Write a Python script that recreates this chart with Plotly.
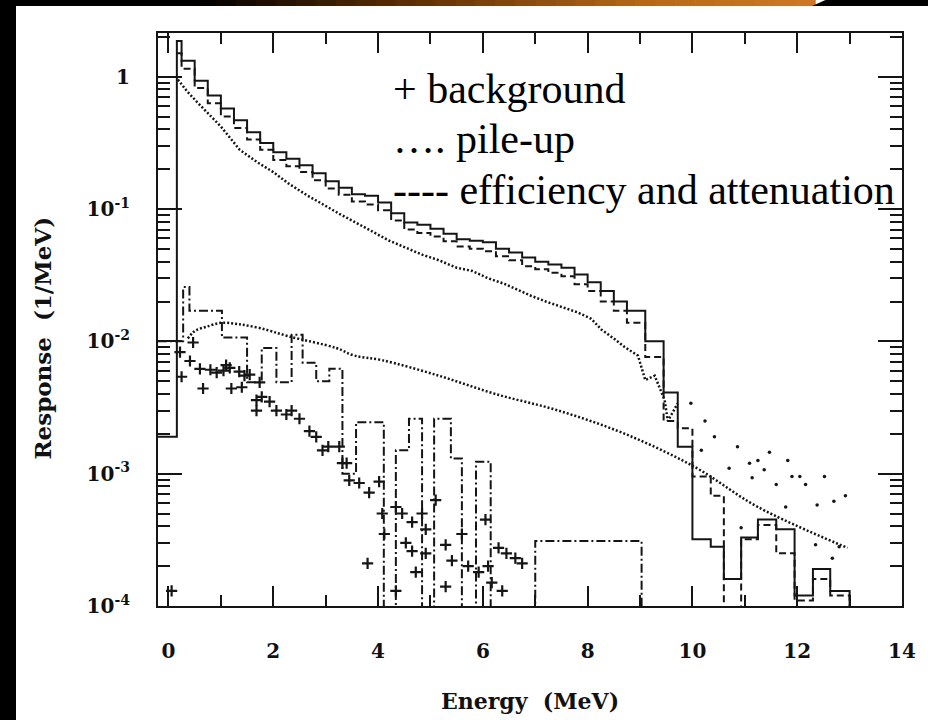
import plotly.graph_objects as go

# ---------------- data ----------------
# solid histogram (full response)
solid_edges = [-0.2, 0.16, 0.25, 0.5, 0.75, 1.0, 1.25, 1.5, 1.75, 2.0, 2.25, 2.5, 2.75, 3.0,
               3.25, 3.5, 3.75, 4.0, 4.25, 4.5, 4.75, 5.0, 5.25, 5.5, 5.75, 6.0, 6.25, 6.5,
               6.75, 7.0, 7.25, 7.5, 7.75, 8.0, 8.25, 8.5, 8.75, 9.1, 9.45, 9.72, 10.0,
               10.35, 10.6, 10.93, 11.25, 11.6, 11.95, 12.3, 12.63, 13.0]
solid_vals = [0.0019, 1.86, 1.32, 0.93, 0.72, 0.575, 0.468, 0.38, 0.316, 0.269, 0.24, 0.214,
              0.186, 0.162, 0.145, 0.129, 0.126, 0.112, 0.093, 0.079, 0.076, 0.071, 0.065,
              0.059, 0.0575, 0.056, 0.050, 0.047, 0.043, 0.040, 0.038, 0.036, 0.032, 0.028,
              0.024, 0.020, 0.017, 0.010, 0.0041, 0.0016, 3.2e-4, 2.8e-4, 1.6e-4, 3.3e-4,
              4.5e-4, 3.8e-4, 1.2e-4, 1.9e-4, 1.3e-4]

# dashed histogram (efficiency and attenuation)
dashed_edges = [0.16, 0.25, 0.5, 0.75, 1.0, 1.25, 1.5, 1.75, 2.0, 2.25, 2.5, 2.75, 3.0,
                3.25, 3.5, 3.75, 4.0, 4.25, 4.5, 4.75, 5.0, 5.25, 5.5, 5.75, 6.0, 6.25, 6.5,
                6.75, 7.0, 7.25, 7.5, 7.75, 8.0, 8.25, 8.5, 8.75, 9.1, 9.45, 9.72, 10.0,
                10.35, 10.6, 10.93, 11.25, 11.6, 11.95, 12.3, 12.63, 13.0]
dashed_vals = [1.5, 1.15, 0.82, 0.63, 0.50, 0.41, 0.335, 0.28, 0.235, 0.21, 0.19, 0.165,
               0.143, 0.128, 0.114, 0.108, 0.098, 0.082, 0.070, 0.066, 0.062, 0.057, 0.052,
               0.050, 0.048, 0.044, 0.041, 0.037, 0.035, 0.033, 0.031, 0.027, 0.024, 0.020,
               0.017, 0.0138, 0.0076, 0.0025, 0.0022, 9.5e-4, 6.8e-4, 1e-5, 3.2e-4, 4.1e-4,
               2.5e-4, 1.1e-4, 1.6e-4, 1.2e-4]

# dash-dot histogram (pile-up)
dashdot_edges = [-0.2, 0.28, 0.4, 1.02, 1.5, 1.78, 2.06, 2.35, 2.56, 2.82, 3.07, 3.32, 3.58,
                 4.11, 4.34, 4.59, 4.84, 5.07, 5.39, 5.6, 5.87, 6.15, 7.0, 9.03]
dashdot_vals = [0.010, 0.0257, 0.017, 0.0107, 0.0049, 0.0089, 0.0049, 0.0112, 0.0069, 0.0050,
                0.0062, 0.0010, 0.00245, 1e-5, 0.0015, 0.0026, 1e-5, 0.0026, 0.0013, 1e-5,
                0.00123, 1e-5, 3.1e-4]

# measured points (dotted)
meas_E = [0.18, 0.35, 0.55, 0.73, 1.0, 1.36, 1.7, 2.0, 2.3, 2.63, 3.0, 3.26, 3.6, 3.89, 4.2,
          4.53, 4.85, 5.16, 5.5, 5.8, 6.1, 6.43, 6.7, 6.93, 7.2, 7.44, 7.8, 8.07, 8.26, 8.5,
          8.7, 8.96, 9.1, 9.28, 9.47, 9.53, 9.72]
meas_R = [0.95, 0.78, 0.64, 0.54, 0.42, 0.28, 0.225, 0.19, 0.155, 0.128, 0.105, 0.092, 0.078,
          0.068, 0.058, 0.051, 0.045, 0.041, 0.036, 0.034, 0.030, 0.027, 0.024, 0.022, 0.020,
          0.0185, 0.0166, 0.0148, 0.0123, 0.0105, 0.0091, 0.0078, 0.0051, 0.0055, 0.0036,
          0.0025, 0.0034]
tail_E = [9.97, 10.17, 10.24, 10.42, 10.7, 10.86, 10.93, 11.09, 11.14, 11.25, 11.37, 11.47,
          11.6, 11.78, 11.82, 11.9, 12.05, 12.16, 12.35, 12.38, 12.52, 12.67, 12.7, 12.8, 12.92]
tail_R = [0.0034, 0.0015, 0.0025, 0.0019, 0.0011, 0.0016, 3.9e-4, 0.0012, 9.3e-4, 0.00126,
          0.00107, 0.00145, 8.3e-4, 5.6e-4, 0.00126, 9.5e-4, 9.5e-4, 8.3e-4, 2.9e-4, 5.8e-4,
          9.5e-4, 2.3e-4, 6.2e-4, 2.8e-4, 6.8e-4]

# smooth dotted curve
smooth_E = [0.37, 0.47, 0.56, 0.73, 1.0, 1.32, 1.74, 2.3, 3.2, 3.55, 4.08, 5.16, 6.24, 7.44,
            8.71, 10.05, 11.25, 12.96]
smooth_R = [0.0105, 0.0117, 0.0123, 0.0129, 0.0138, 0.0135, 0.0126, 0.0109, 0.0089, 0.0078,
            0.0072, 0.0055, 0.0040, 0.0030, 0.0020, 0.00112, 5.6e-4, 2.75e-4]

# background points (+)
bg_E = [0.06, 0.22, 0.25, 0.41, 0.47, 0.6, 0.66, 0.8, 0.92, 1.05, 1.1, 1.17, 1.2, 1.35, 1.4,
        1.45, 1.55, 1.68, 1.68, 1.74, 1.78, 1.93, 2.06, 2.25, 2.35, 2.5, 2.69, 2.82, 2.94,
        3.05, 3.26, 3.32, 3.4, 3.45, 3.64, 3.8, 3.83, 4.02, 4.08, 4.12, 4.34, 4.34, 4.46, 4.53,
        4.65, 4.65, 4.72, 4.84, 4.91, 4.91, 5.1, 5.29, 5.29, 5.41, 5.6, 5.72, 5.92, 6.05, 6.1,
        6.17, 6.3, 6.37, 6.45, 6.62, 6.75]
bg_R = [1.3e-4, 0.0083, 0.0054, 0.0071, 0.0098, 0.0062, 0.0044, 0.0061, 0.0058, 0.0060,
        0.0066, 0.0063, 0.0044, 0.0059, 0.0045, 0.0055, 0.0056, 0.0036, 0.0030, 0.0049,
        0.0038, 0.0035, 0.0030, 0.0028, 0.0030, 0.0026, 0.0021, 0.0019, 0.0015, 0.0016,
        0.0016, 0.0012, 0.0012, 8.9e-4, 8.5e-4, 2.1e-4, 7.2e-4, 8.7e-4, 5.0e-4, 3.5e-4,
        5.6e-4, 1.3e-4, 5.0e-4, 3.0e-4, 4.3e-4, 2.6e-4, 1.8e-4, 5.0e-4, 3.8e-4, 2.5e-4,
        6.3e-4, 2.9e-4, 1.4e-4, 2.2e-4, 3.5e-4, 2.0e-4, 1.8e-4, 4.5e-4, 2.0e-4, 1.5e-4,
        2.75e-4, 1.3e-4, 2.5e-4, 2.3e-4, 2.1e-4]

x_ticks = [0, 2, 4, 6, 8, 10, 12, 14]
y_ticks = [1e-4, 1e-3, 1e-2, 1e-1, 1]
y_ticktext = ["10<sup>-4</sup>", "10<sup>-3</sup>", "10<sup>-2</sup>", "10<sup>-1</sup>", "1"]
legend_lines = ["+ background", "…. pile-up", "---- efficiency and attenuation"]

FLOOR = 1e-6
INK = "#151515"


def step(edges, vals):
    xs = list(edges)
    ys = list(vals) + [FLOOR]
    return xs, ys


fig = go.Figure()

sx, sy = step(solid_edges, solid_vals)
fig.add_trace(go.Scatter(x=sx, y=sy, mode="lines", line=dict(color=INK, width=2, shape="hv")))

dx, dy = step(dashed_edges, dashed_vals)
fig.add_trace(go.Scatter(x=dx, y=dy, mode="lines",
                         line=dict(color=INK, width=2, shape="hv", dash="7px,4px")))

ddx, ddy = step(dashdot_edges, dashdot_vals)
fig.add_trace(go.Scatter(x=ddx, y=ddy, mode="lines",
                         line=dict(color=INK, width=2, shape="hv", dash="9px,3px,2px,3px")))

fig.add_trace(go.Scatter(x=meas_E, y=meas_R, mode="lines",
                         line=dict(color=INK, width=2.5, dash="2px,2px")))
fig.add_trace(go.Scatter(x=tail_E, y=tail_R, mode="markers",
                         marker=dict(color=INK, size=3.5)))

fig.add_trace(go.Scatter(x=smooth_E, y=smooth_R, mode="lines",
                         line=dict(color=INK, width=2.5, dash="2px,2px", shape="spline")))

fig.add_trace(go.Scatter(x=bg_E, y=bg_R, mode="markers",
                         marker=dict(symbol="cross-thin", size=8, color=INK,
                                     line=dict(color=INK, width=2.2))))

tickfont = dict(family="DejaVu Serif", size=20, color="#111", weight="bold")

fig.update_xaxes(range=[-0.2, 14.0], tickvals=x_ticks, ticks="inside", ticklen=20, tickwidth=2,
                 tickcolor=INK, showline=True, linecolor=INK, linewidth=2, mirror="ticks",
                 showgrid=False, zeroline=False, tickfont=tickfont, ticklabelstandoff=26,
                 minor=dict(dtick=1, tick0=0, ticks="inside", ticklen=11, tickwidth=2,
                            tickcolor=INK, showgrid=False))

y_minor = [m * 10 ** d for d in range(-4, 1) for m in range(2, 10)]
fig.update_yaxes(type="log", range=[-4.0, 0.33], tickvals=y_ticks, ticktext=y_ticktext,
                 ticks="inside", ticklen=24, tickwidth=2, tickcolor=INK, showline=True,
                 linecolor=INK, linewidth=2, mirror="ticks", showgrid=False, zeroline=False,
                 tickfont=tickfont, ticklabelstandoff=22,
                 minor=dict(tickmode="array", tickvals=y_minor, ticks="inside", ticklen=12,
                            tickwidth=2, tickcolor=INK, showgrid=False))

annotations = []
for i, t in enumerate(legend_lines):
    annotations.append(dict(x=4.25, y=[-0.09, -0.47, -0.86][i], xref="x", yref="y", text=t,
                            showarrow=False, xanchor="left", yanchor="middle",
                            font=dict(family="Liberation Serif", size=42, color="#000")))
annotations.append(dict(x=0.5, y=-0.165, xref="paper", yref="paper", text="Energy  (MeV)",
                        showarrow=False, xanchor="center", yanchor="middle",
                        font=dict(family="DejaVu Serif", size=22, color="#111", weight="bold")))
annotations.append(dict(x=-0.155, y=0.468, xref="paper", yref="paper", text="Response  (1/MeV)",
                        showarrow=False, xanchor="center", yanchor="middle", textangle=-90,
                        font=dict(family="DejaVu Serif", size=23, color="#111", weight="bold")))

# slide decoration: black left bar and top gradient strip
L, T, W, H = 158, 33, 744, 573


def px(X):
    return (X - L) / W


def py(Y):
    return (T + H - Y) / H


shapes = [dict(type="rect", xref="paper", yref="paper", x0=px(-5), x1=px(16), y0=py(730),
               y1=py(-5), fillcolor="black", line=dict(width=0), layer="below")]

stops = [(0, (0, 0, 0)), (200, (0, 0, 0)), (400, (90, 45, 5)), (650, (185, 105, 25)),
         (815, (205, 120, 40))]
n = 40
for k in range(n):
    X0 = 16 + k * (815 - 16) / n
    X1 = 16 + (k + 1) * (815 - 16) / n
    Xm = (X0 + X1) / 2
    c = stops[-1][1]
    for j in range(len(stops) - 1):
        a, ca = stops[j]
        b, cb = stops[j + 1]
        if a <= Xm <= b:
            f = (Xm - a) / (b - a)
            c = tuple(int(ca[i] + f * (cb[i] - ca[i])) for i in range(3))
            break
    shapes.append(dict(type="rect", xref="paper", yref="paper", x0=px(X0), x1=px(X1) + 0.001,
                       y0=py(6), y1=py(-2), fillcolor="rgb(%d,%d,%d)" % c, line=dict(width=0),
                       layer="below"))
shapes.append(dict(type="path", xref="paper", yref="paper",
                   path="M %f %f L %f %f L %f %f L %f %f Z" % (px(812), py(6), px(830), py(-2),
                                                               px(940), py(-2), px(940), py(6)),
                   fillcolor="black", line=dict(width=0), layer="below"))

fig.update_layout(width=928, height=720, margin=dict(l=L, r=928 - 902, t=T, b=720 - 606),
                  paper_bgcolor="white", plot_bgcolor="white", showlegend=False,
                  annotations=annotations, shapes=shapes)

fig.write_html("out.html", config={"displayModeBar": False},
               post_script="document.body.style.margin='0px';")
